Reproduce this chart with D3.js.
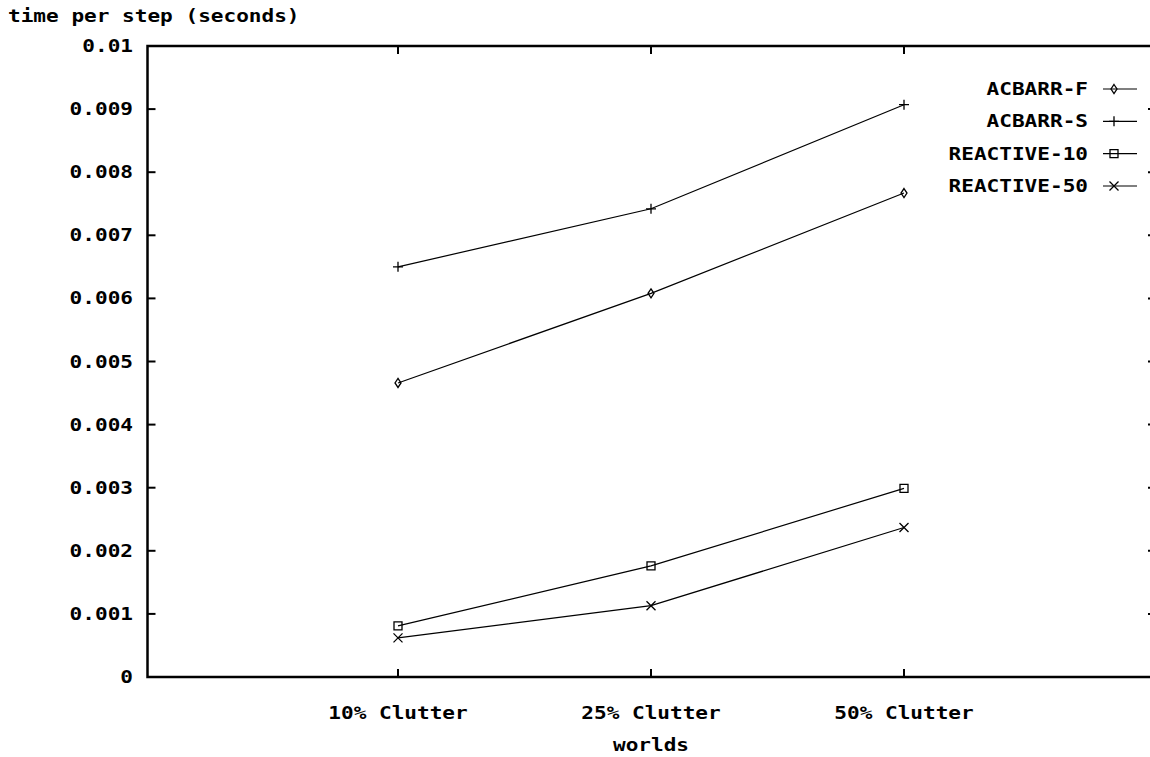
<!DOCTYPE html>
<html>
<head>
<meta charset="utf-8">
<script src="https://cdn.jsdelivr.net/npm/d3@7"></script>
<style>
  html, body { margin: 0; padding: 0; background: #fff; }
  svg { display: block; }
  text { font-family: "DejaVu Sans Mono", "Liberation Mono", monospace; font-weight: bold; font-size: 17px; fill: #000; }
</style>
</head>
<body>
<svg id="chart" width="1150" height="757"></svg>
<script>
const categories = ["10% Clutter", "25% Clutter", "50% Clutter"];
const seriesNames = ["ACBARR-F", "ACBARR-S", "REACTIVE-10", "REACTIVE-50"];
const acbarrF = [0.00466, 0.00608, 0.00767];
const acbarrS = [0.00650, 0.00742, 0.00907];
const reactive10 = [0.00081, 0.00176, 0.00299];
const reactive50 = [0.00062, 0.00113, 0.00237];
const yTickValues = [0, 0.001, 0.002, 0.003, 0.004, 0.005, 0.006, 0.007, 0.008, 0.009, 0.01];
const yTickLabels = ["0", "0.001", "0.002", "0.003", "0.004", "0.005", "0.006", "0.007", "0.008", "0.009", "0.01"];
const titleText = "time per step (seconds)";
const xTitleText = "worlds";

(function () {
const series = [
  { name: seriesNames[0], values: acbarrF, marker: "diamond" },
  { name: seriesNames[1], values: acbarrS, marker: "plus" },
  { name: seriesNames[2], values: reactive10, marker: "box" },
  { name: seriesNames[3], values: reactive50, marker: "cross" }
];

const svg = d3.select("#chart");
const pLeft = 147.5, pRight = 1155, pTop = 46, pBottom = 677;
const SX = 1.24;

const x = d3.scaleLinear().domain([0, 2]).range([398, 904]);
const y = d3.scaleLinear().domain([0, 0.01]).range([pBottom, pTop]);

function txt(g, str, tx, ty, anchor) {
  return g.append("text")
    .attr("transform", `translate(${tx},${ty}) scale(${SX},1)`)
    .attr("text-anchor", anchor)
    .text(str);
}

function markerPath(type) {
  const p = d3.path();
  if (type === "diamond") {
    p.moveTo(0, -4.5); p.lineTo(3, 0); p.lineTo(0, 4.5); p.lineTo(-3, 0); p.closePath();
  } else if (type === "plus") {
    p.moveTo(-5, 0); p.lineTo(5, 0); p.moveTo(0, -5); p.lineTo(0, 5);
  } else if (type === "box") {
    p.rect(-4, -4, 8, 8);
  } else if (type === "cross") {
    p.moveTo(-4.5, -4.5); p.lineTo(4.5, 4.5); p.moveTo(-4.5, 4.5); p.lineTo(4.5, -4.5);
  }
  return p.toString();
}

// frame
svg.append("rect")
  .attr("x", pLeft).attr("y", pTop)
  .attr("width", pRight - pLeft).attr("height", pBottom - pTop)
  .attr("fill", "none").attr("stroke", "#000").attr("stroke-width", 2.5);

// y ticks (left and right)
const yt = svg.append("g");
yTickValues.forEach((v, i) => {
  if (i > 0 && i < yTickValues.length - 1) {
    yt.append("line").attr("x1", pLeft).attr("x2", pLeft + 8).attr("y1", y(v)).attr("y2", y(v))
      .attr("stroke", "#000").attr("stroke-width", 2);
    yt.append("line").attr("x1", pRight).attr("x2", pRight - 7).attr("y1", y(v)).attr("y2", y(v))
      .attr("stroke", "#000").attr("stroke-width", 2);
  }
  txt(yt, yTickLabels[i], 133, y(v) + 6, "end");
});

// x ticks (bottom and top)
const xt = svg.append("g");
categories.forEach((c, i) => {
  xt.append("line").attr("x1", x(i)).attr("x2", x(i)).attr("y1", pBottom).attr("y2", pBottom - 8)
    .attr("stroke", "#000").attr("stroke-width", 2);
  xt.append("line").attr("x1", x(i)).attr("x2", x(i)).attr("y1", pTop).attr("y2", pTop + 8)
    .attr("stroke", "#000").attr("stroke-width", 2);
  txt(xt, c, x(i), 719, "middle");
});

// titles
txt(svg, titleText, 8, 22, "start");
txt(svg, xTitleText, x(1), 751, "middle");

// lines & markers
const line = d3.line().x((d, i) => x(i)).y(d => y(d));
const plot = svg.append("g");
series.forEach(s => {
  plot.append("path").attr("d", line(s.values))
    .attr("fill", "none").attr("stroke", "#000").attr("stroke-width", 1.2);
  s.values.forEach((v, i) => {
    plot.append("path").attr("d", markerPath(s.marker))
      .attr("transform", `translate(${x(i)},${y(v)})`)
      .attr("fill", "none").attr("stroke", "#000").attr("stroke-width", 1.3);
  });
});

// legend
const lg = svg.append("g");
const legendY = d3.scaleLinear().domain([0, 3]).range([89, 186]);
series.forEach((s, i) => {
  const ly = legendY(i);
  txt(lg, s.name, 1088, ly + 6, "end");
  lg.append("line").attr("x1", 1103).attr("x2", 1137).attr("y1", ly).attr("y2", ly)
    .attr("stroke", "#000").attr("stroke-width", 1.2);
  lg.append("path").attr("d", markerPath(s.marker))
    .attr("transform", `translate(1114,${ly})`)
    .attr("fill", "none").attr("stroke", "#000").attr("stroke-width", 1.3);
});
})();
</script>
</body>
</html>
